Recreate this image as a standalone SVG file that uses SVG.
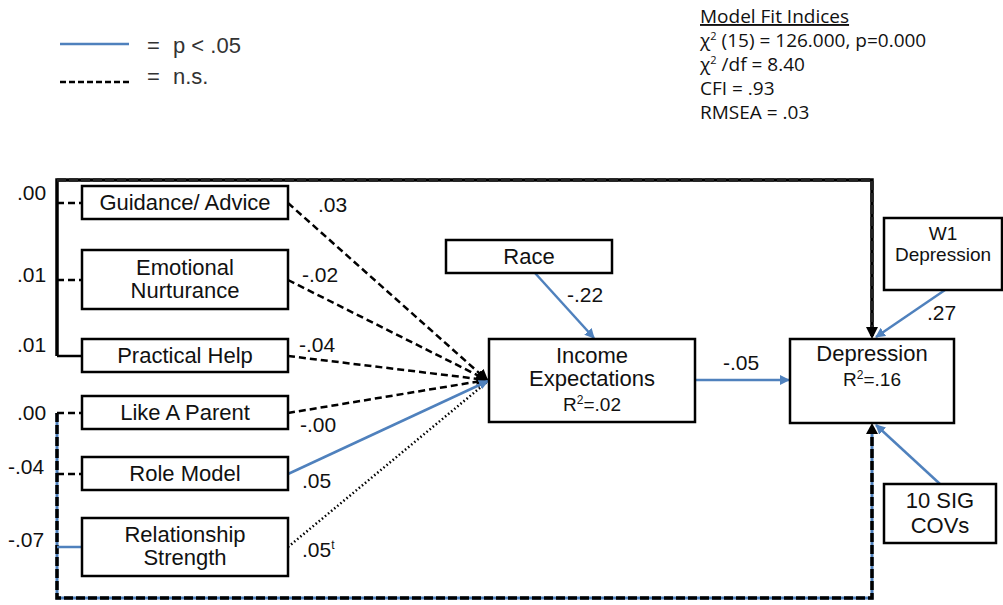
<svg xmlns="http://www.w3.org/2000/svg" width="1003" height="605" viewBox="0 0 1003 605">
  <style>
    .box { fill: #ffffff; stroke: #000000; stroke-width: 2.5; }
    .lbl { font-family: "Liberation Sans", Arial, sans-serif; font-size: 22px; fill: #111111; }
    .num { font-family: "Liberation Sans", Arial, sans-serif; font-size: 21px; fill: #111111; }
    .mid { text-anchor: middle; }
    .fit { font-family: "Open Sans", "Liberation Sans", sans-serif; font-size: 19px; fill: #111111; }
    .dash { fill: none; stroke: #000000; stroke-width: 2.5; stroke-dasharray: 7 4; }
    .frame { fill: none; stroke: #000000; stroke-width: 3.5; stroke-dasharray: 9 3; }
    .solidk { fill: none; stroke: #000000; stroke-width: 2.5; }
    .sig { fill: none; stroke: #4f81bd; stroke-width: 2.5; }
    .dot { fill: none; stroke: #000000; stroke-width: 2.5; stroke-dasharray: 1.5 2.5; }
  </style>
  <defs>
    <marker id="ab" markerWidth="10" markerHeight="10" refX="9" refY="5" orient="auto" markerUnits="userSpaceOnUse" viewBox="0 0 10 10">
      <path d="M0,0 L10,5 L0,10 z" fill="#4f81bd"/>
    </marker>
    <marker id="ak" markerWidth="12" markerHeight="12" refX="10" refY="6" orient="auto" markerUnits="userSpaceOnUse" viewBox="0 0 12 12">
      <path d="M0,0 L12,6 L0,12 z" fill="#000000"/>
    </marker>
  </defs>

  <rect width="1003" height="605" fill="#ffffff"/>

  <!-- legend -->
  <g id="legend" class="lbl" style="fill:#333">
    <line x1="60" y1="44" x2="129" y2="44" class="sig"/>
    <text x="147" y="53">=</text>
    <text x="173" y="53">p &lt; .05</text>
    <line x1="60" y1="82" x2="129" y2="82" class="dash" style="stroke-dasharray:6 3"/>
    <text x="147" y="84">=</text>
    <text x="173" y="84">n.s.</text>
  </g>

  <!-- fit statistics -->
  <g id="fit-indices" class="fit">
    <text x="700" y="23" text-decoration="underline">Model Fit Indices</text>
    <text x="700" y="47">χ<tspan dy="-7" font-size="11">2</tspan><tspan dy="7"> (15) = 126.000, p=0.000</tspan></text>
    <text x="700" y="71">χ<tspan dy="-7" font-size="11">2</tspan><tspan dy="7"> /df = 8.40</tspan></text>
    <text x="700" y="95">CFI = .93</text>
    <text x="700" y="119">RMSEA = .03</text>
  </g>

  <!-- connectors -->
  <g id="connectors">
    <!-- upper covariance frame -->
    <path d="M57,356 L57,180 L872,180 L872,336" class="solidk" style="stroke-width:3.5"/>
    <path d="M57,180 L872,180 L872,330" class="frame" style="stroke:#222"/>
    <polygon points="866,327 878,327 872,339" fill="#000"/>
    <path d="M57,356 L82,356" class="solidk"/>
    <path d="M57,203 L82,203" class="dash"/>
    <path d="M57,280 L82,280" class="dash"/>
    <!-- lower covariance frame -->
    <path d="M57,413 L57,598 L872,598 L872,430" class="sig" style="stroke-width:3"/>
    <path d="M57,413 L57,598 L872,598 L872,432" class="frame"/>
    <polygon points="866,434 878,434 872,423" fill="#000"/>
    <path d="M57,413 L82,413" class="dash"/>
    <path d="M57,474 L82,474" class="dash"/>
    <path d="M57,547 L82,547" class="sig"/>

    <!-- predictors to income expectations -->
    <path d="M288,203 L487,380" class="dash" marker-end="url(#ak)"/>
    <path d="M288,280 L487,380" class="dash" marker-end="url(#ak)"/>
    <path d="M288,356 L487,380" class="dash" marker-end="url(#ak)"/>
    <path d="M288,413 L487,380" class="dash" marker-end="url(#ak)"/>
    <path d="M288,547 L487,382" class="dot"/>
    <path d="M288,474 L488,381" class="sig" marker-end="url(#ab)"/>

    <!-- other paths -->
    <path d="M535,273 L594,338" class="sig" marker-end="url(#ab)"/>
    <path d="M695,380 L789,380" class="sig" marker-end="url(#ab)"/>
    <path d="M945,290 L876,337" class="sig" marker-end="url(#ab)"/>
    <path d="M940,484 L876,425" class="sig" marker-end="url(#ab)"/>
  </g>

  <!-- path coefficients -->
  <g id="coefficients" class="num">
    <text x="17" y="200">.00</text>
    <text x="17" y="282">.01</text>
    <text x="17" y="352">.01</text>
    <text x="17" y="420">.00</text>
    <text x="8" y="474">-.04</text>
    <text x="8" y="547">-.07</text>
    <text x="318" y="212">.03</text>
    <text x="302" y="282">-.02</text>
    <text x="299" y="352">-.04</text>
    <text x="300" y="432">-.00</text>
    <text x="302" y="488">.05</text>
    <text x="302" y="557">.05<tspan dy="-8" font-size="12">t</tspan></text>
    <text x="567" y="302">-.22</text>
    <text x="723" y="370">-.05</text>
    <text x="927" y="320">.27</text>
  </g>

  <!-- nodes -->
  <g id="guidance">
    <rect x="82" y="186" width="206" height="33" class="box"/>
    <text x="185" y="210" class="lbl mid">Guidance/ Advice</text>
  </g>
  <g id="emotional">
    <rect x="82" y="250" width="206" height="59" class="box"/>
    <text x="185" y="275" class="lbl mid">Emotional</text>
    <text x="185" y="298" class="lbl mid">Nurturance</text>
  </g>
  <g id="practical">
    <rect x="82" y="339" width="206" height="33" class="box"/>
    <text x="185" y="363" class="lbl mid">Practical Help</text>
  </g>
  <g id="like-parent">
    <rect x="82" y="396" width="206" height="33" class="box"/>
    <text x="185" y="420" class="lbl mid">Like A Parent</text>
  </g>
  <g id="role-model">
    <rect x="82" y="457" width="206" height="33" class="box"/>
    <text x="185" y="481" class="lbl mid">Role Model</text>
  </g>
  <g id="relationship">
    <rect x="82" y="518" width="206" height="58" class="box"/>
    <text x="185" y="542" class="lbl mid">Relationship</text>
    <text x="185" y="565" class="lbl mid">Strength</text>
  </g>
  <g id="race">
    <rect x="446" y="240" width="166" height="33" class="box"/>
    <text x="529" y="264" class="lbl mid">Race</text>
  </g>
  <g id="income">
    <rect x="489" y="339" width="206" height="83" class="box"/>
    <text x="592" y="363" class="lbl mid">Income</text>
    <text x="592" y="386" class="lbl mid">Expectations</text>
    <text x="592" y="411" class="lbl mid" style="font-size:19px">R<tspan dy="-7" font-size="12">2</tspan><tspan dy="7">=.02</tspan></text>
  </g>
  <g id="depression">
    <rect x="790" y="339" width="164" height="84" class="box"/>
    <text x="872" y="361" class="lbl mid">Depression</text>
    <text x="872" y="386" class="lbl mid" style="font-size:19px">R<tspan dy="-7" font-size="12">2</tspan><tspan dy="7">=.16</tspan></text>
  </g>
  <g id="w1-depression">
    <rect x="884" y="218" width="118" height="72" class="box"/>
    <text x="943" y="240" class="lbl mid" style="font-size:19px">W1</text>
    <text x="943" y="261" class="lbl mid" style="font-size:19px">Depression</text>
  </g>
  <g id="covariates">
    <rect x="884" y="484" width="112" height="59" class="box"/>
    <text x="940" y="508" class="lbl mid">10 SIG</text>
    <text x="940" y="533" class="lbl mid">COVs</text>
  </g>
</svg>
